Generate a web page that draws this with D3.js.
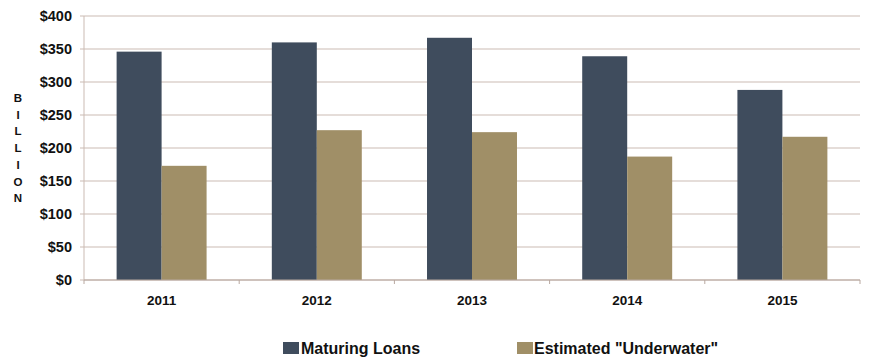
<!DOCTYPE html>
<html><head><meta charset="utf-8">
<script src="https://cdn.jsdelivr.net/npm/d3@7"></script>
<style>body{margin:0;background:#fff}text{font-family:"Liberation Sans",Arial,sans-serif;font-weight:bold;fill:#111}</style>
</head><body><svg id="c" width="870" height="360"></svg>
<script>
const categories = ["2011","2012","2013","2014","2015"];
const seriesNames = ["Maturing Loans","Estimated \"Underwater\""];
const maturing = [346, 360, 367, 339, 288];
const underwater = [173, 227, 224, 187, 217];
const yTicks = [0,50,100,150,200,250,300,350,400];
const colors = ["#3f4c5d","#a08f67"];
const axisLetters = ["B","I","L","L","I","O","N"];

const svg = d3.select("#c");
const m = {l:84, r:860, t:16, b:280};
const x = d3.scaleBand().domain(categories).range([m.l, m.r]).paddingInner(0).paddingOuter(0);
const xs = d3.scaleBand().domain([0,1]).range([0, x.bandwidth()]).paddingInner(0).paddingOuter(0.725);
const y = d3.scaleLinear().domain([0,400]).range([m.b, m.t]);

// gridlines
svg.append("g").selectAll("line").data(yTicks).join("line")
  .attr("x1", m.l-4).attr("x2", m.r).attr("y1", d=>y(d)).attr("y2", d=>y(d))
  .attr("stroke", "#cbbbb3").attr("stroke-width", 1);
svg.append("line").attr("x1", m.l).attr("x2", m.l).attr("y1", m.t).attr("y2", m.b).attr("stroke","#cbbbb3");

// y labels
svg.append("g").selectAll("text").data(yTicks).join("text")
  .attr("x", 72).attr("y", d=>y(d)+5).attr("text-anchor","end").style("font-size","14.5px")
  .text(d=>"$"+d);

// bars
const data = categories.map((c,i)=>({c, v:[maturing[i], underwater[i]]}));
const g = svg.append("g").selectAll("g").data(data).join("g").attr("transform", d=>`translate(${x(d.c)},0)`);
g.selectAll("rect").data(d=>d.v.map((v,k)=>({v,k}))).join("rect")
  .attr("x", d=>xs(d.k)).attr("width", xs.bandwidth())
  .attr("y", d=>y(d.v)).attr("height", d=>y(0)-y(d.v))
  .attr("fill", d=>colors[d.k]);

// bottom axis
svg.append("line").attr("x1", m.l).attr("x2", m.r).attr("y1", m.b).attr("y2", m.b).attr("stroke","#b8a8a0");
svg.append("g").selectAll("line").data(categories.map((c,i)=>i).concat([categories.length])).join("line")
  .attr("x1", i=>i<categories.length? x(categories[i]) : m.r).attr("x2", i=>i<categories.length? x(categories[i]) : m.r)
  .attr("y1", m.b).attr("y2", m.b+4).attr("stroke","#b8a8a0");
svg.append("g").selectAll("text").data(categories).join("text")
  .attr("x", d=>x(d)+x.bandwidth()/2).attr("y", 305).attr("text-anchor","middle").style("font-size","13.5px").text(d=>d);

// vertical label
svg.append("g").selectAll("text").data(axisLetters).join("text")
  .attr("x", 18).attr("y", (d,i)=>102+i*16.7).attr("text-anchor","middle").style("font-size","11.5px").text(d=>d);

// legend
const lg = [{x:283, tx:301},{x:517, tx:534}];
const leg = svg.append("g").selectAll("g").data(seriesNames).join("g");
leg.append("rect").attr("x",(d,i)=>lg[i].x).attr("y",342).attr("width",16).attr("height",12).attr("fill",(d,i)=>colors[i]);
leg.append("text").attr("x",(d,i)=>lg[i].tx).attr("y",354).style("font-size","16px").text(d=>d);
</script></body></html>
